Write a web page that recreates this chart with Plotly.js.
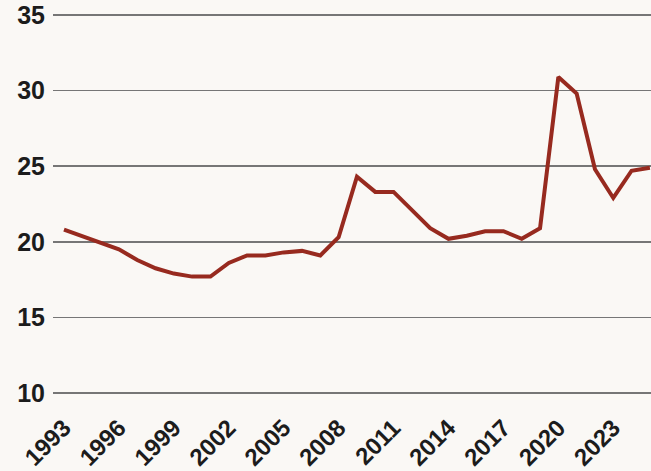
<!DOCTYPE html>
<html>
<head>
<meta charset="utf-8">
<script src="https://cdn.plot.ly/plotly-3.0.1.min.js"></script>
<style>
  html, body { margin: 0; padding: 0; background: #faf8f5; }
  #chart { width: 651px; height: 471px; }
</style>
</head>
<body>
<div id="chart"></div>
<script>
// Share of GDP, yearly, 1993-2025
const years = [
  1993, 1994, 1995, 1996, 1997, 1998, 1999, 2000, 2001, 2002, 2003,
  2004, 2005, 2006, 2007, 2008, 2009, 2010, 2011, 2012, 2013, 2014,
  2015, 2016, 2017, 2018, 2019, 2020, 2021, 2022, 2023, 2024, 2025
];
const values = [
  20.8, 20.35, 19.9, 19.5, 18.8, 18.25, 17.9, 17.7, 17.7, 18.6, 19.1,
  19.1, 19.3, 19.4, 19.1, 20.3, 24.3, 23.3, 23.3, 22.1, 20.9, 20.2,
  20.4, 20.7, 20.7, 20.2, 20.9, 30.9, 29.8, 24.8, 22.9, 24.7, 24.9
];
const xTickYears = [1993, 1996, 1999, 2002, 2005, 2008, 2011, 2014, 2017, 2020, 2023];
const yTicks = [10, 15, 20, 25, 30, 35];

const xLabelFont = { family: 'Liberation Sans, Arial, sans-serif', size: 24, color: '#1c1c1c', weight: 700 };
const yLabelFont = { family: 'Liberation Sans, Arial, sans-serif', size: 25, color: '#1c1c1c', weight: 700 };

const trace = {
  x: years,
  y: values,
  type: 'scatter',
  mode: 'lines',
  line: { color: '#972a1f', width: 4, shape: 'linear' },
  hoverinfo: 'x+y'
};

const layout = {
  width: 651,
  height: 471,
  margin: { l: 53, r: 0, t: 0, b: 71, pad: 0 },
  paper_bgcolor: '#faf8f5',
  plot_bgcolor: '#faf8f5',
  showlegend: false,
  font: xLabelFont,
  xaxis: {
    range: [1992.4, 2025.06],
    tickmode: 'array',
    tickvals: xTickYears,
    ticktext: xTickYears.map(String),
    tickangle: -45,
    showgrid: false,
    zeroline: false,
    showline: false,
    ticks: '',
    ticklabelstandoff: 8,
    tickfont: xLabelFont,
    fixedrange: true
  },
  yaxis: {
    range: [9.54, 35.99],
    tickmode: 'array',
    tickvals: yTicks,
    ticktext: yTicks.map(String),
    showgrid: true,
    gridcolor: '#767676',
    gridwidth: 1.6,
    zeroline: false,
    showline: false,
    ticks: '',
    ticklabelstandoff: 7,
    tickfont: yLabelFont,
    fixedrange: true
  }
};

Plotly.newPlot('chart', [trace], layout, { displayModeBar: false, staticPlot: true });
</script>
</body>
</html>
